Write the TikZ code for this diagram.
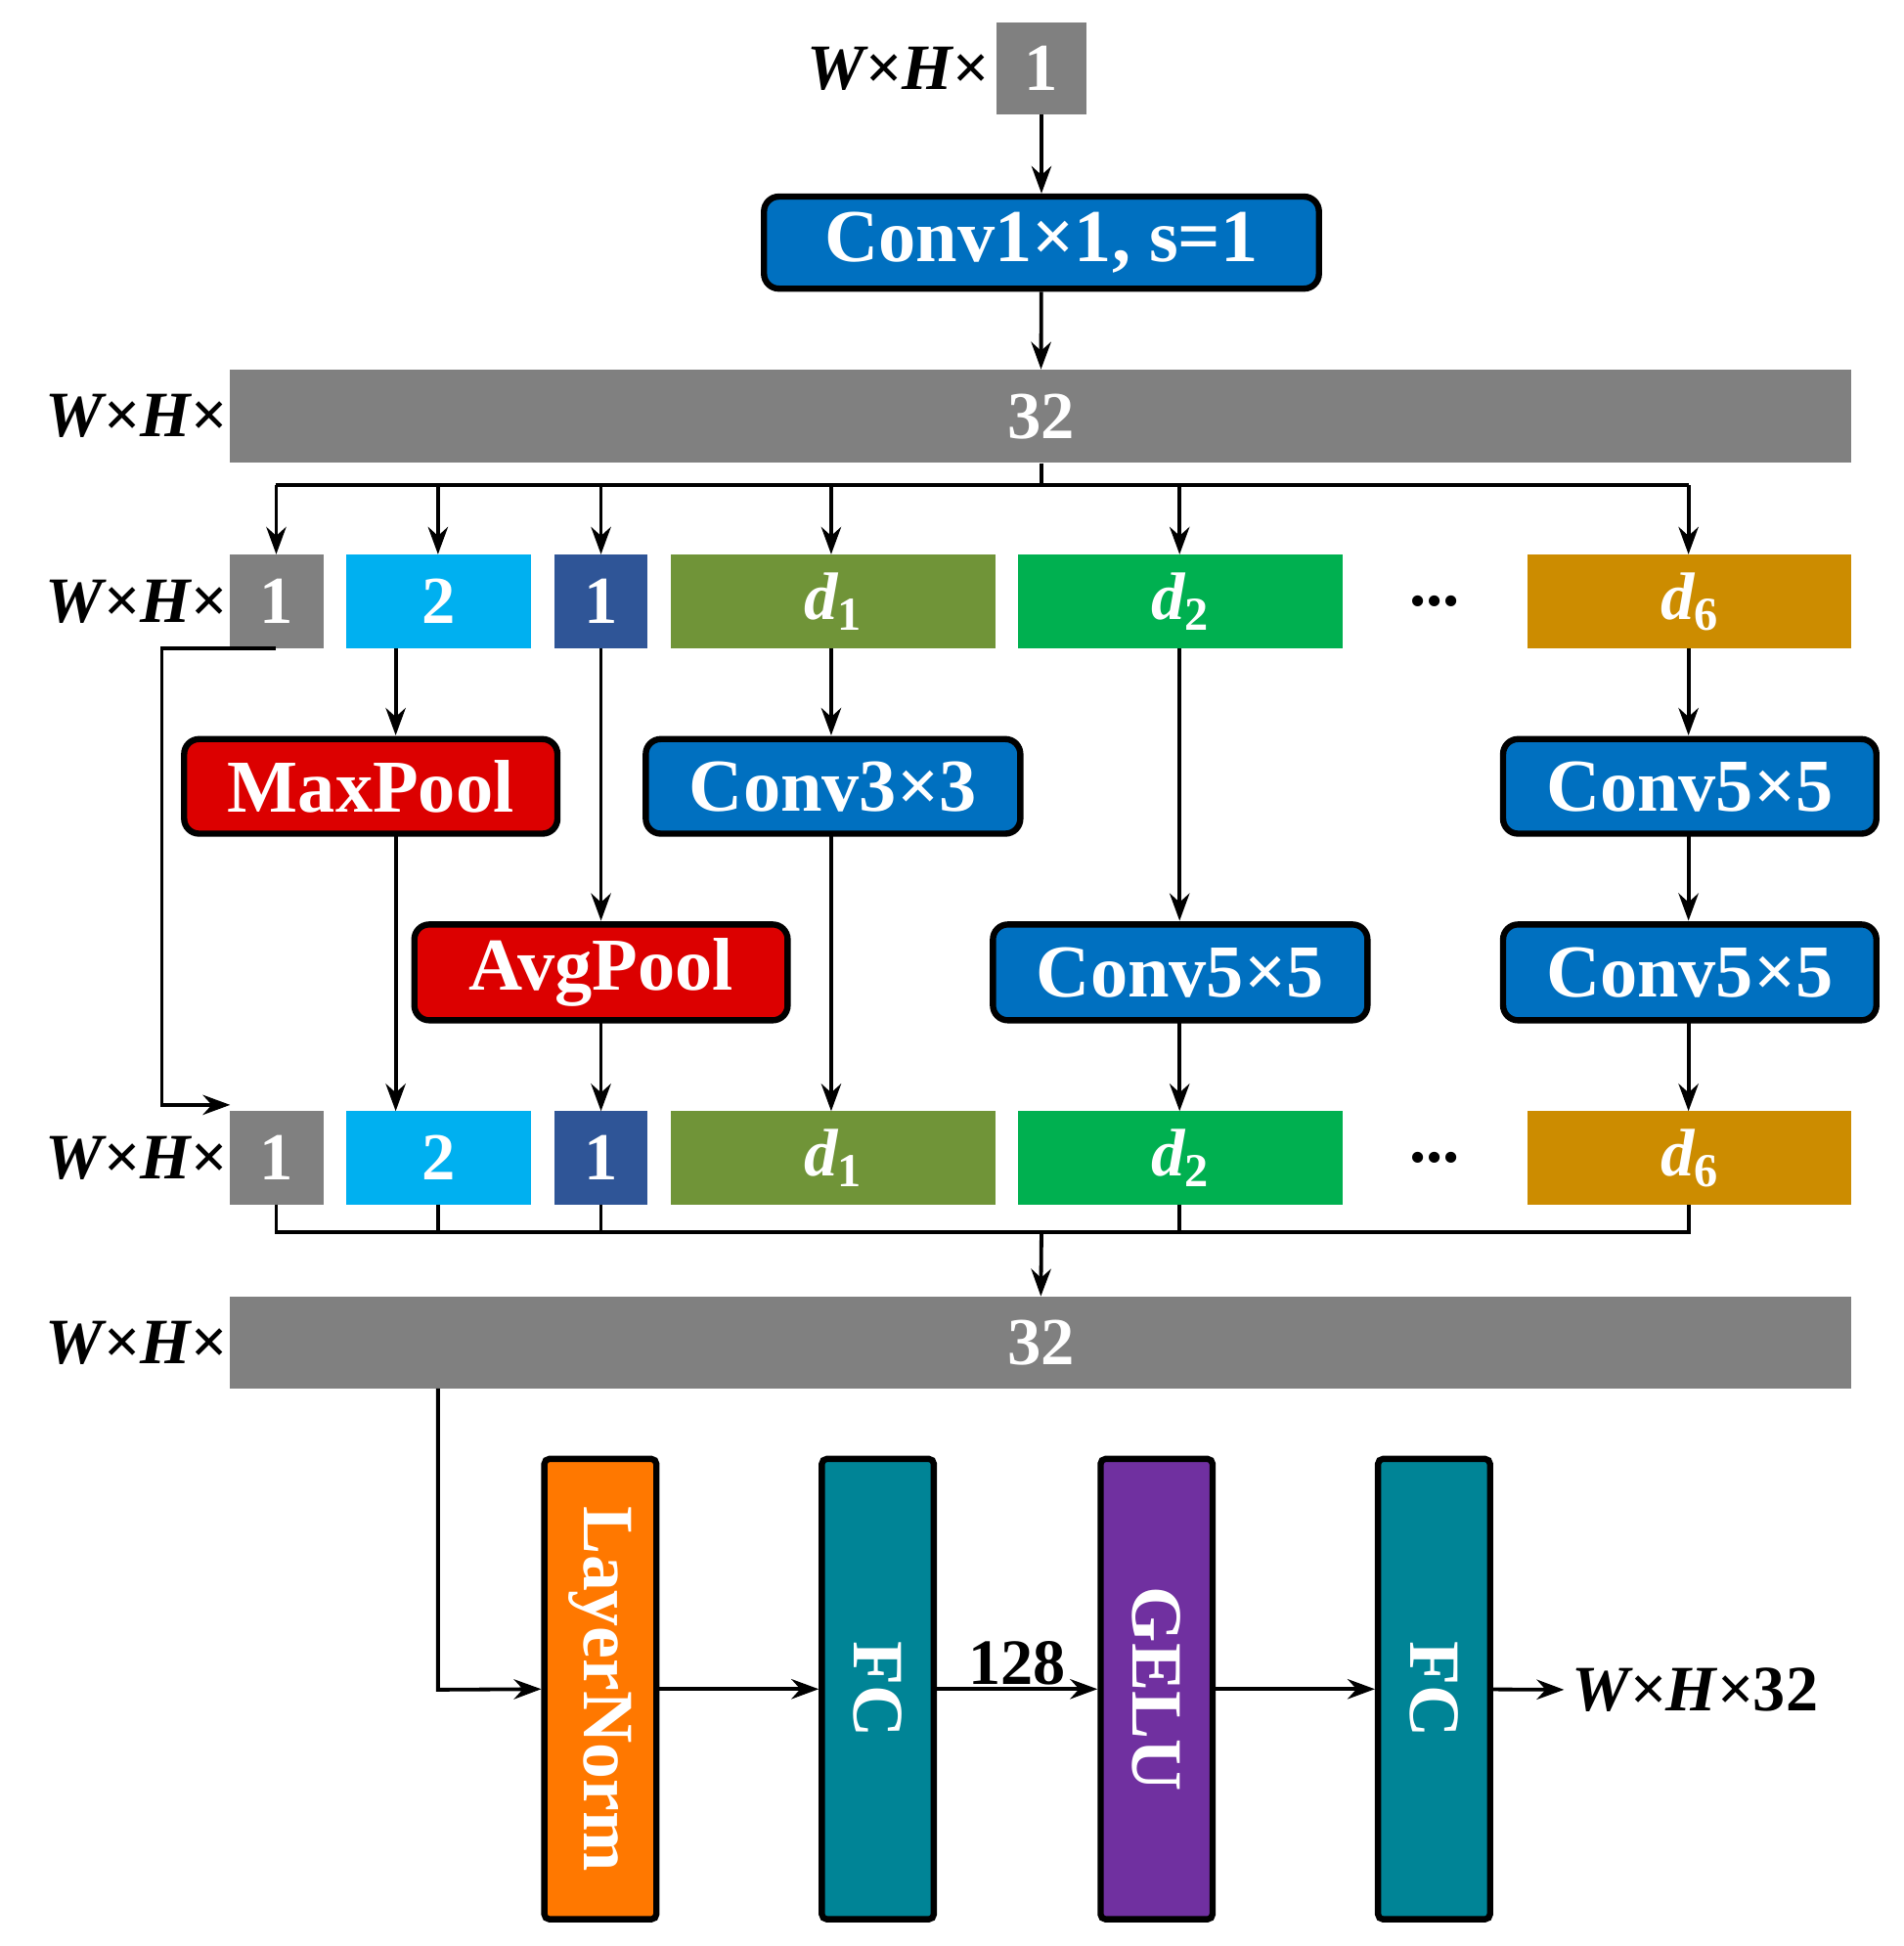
\documentclass[tikz,border=0pt]{standalone}
\usepackage{fontspec}
\setmainfont{Liberation Serif}
\usetikzlibrary{arrows.meta}
\definecolor{cblue}{RGB}{0,112,192}
\definecolor{cred}{RGB}{220,0,0}
\definecolor{cgray}{RGB}{128,128,128}
\definecolor{ccyan}{RGB}{0,176,240}
\definecolor{cnavy}{RGB}{47,85,151}
\definecolor{colive}{RGB}{112,148,56}
\definecolor{cgreen}{RGB}{0,176,80}
\definecolor{cgold}{RGB}{204,140,0}
\definecolor{corange}{RGB}{255,120,0}
\definecolor{cteal}{RGB}{0,132,150}
\definecolor{cpurple}{RGB}{112,48,160}
\newcommand{\dsub}[1]{{\itshape d}\raisebox{-0.35ex}{\fontsize{38}{38}\selectfont #1}}
\begin{document}
\begin{tikzpicture}[x=1pt,y=-1pt,
  op/.style={draw=black,line width=5pt,rounded corners=12pt,text=white,inner sep=0pt,font=\bfseries\fontsize{60}{60}\selectfont},
  blk/.style={inner sep=0pt,text=white,font=\bfseries\fontsize{54}{54}\selectfont},
  vb/.style={draw=black,line width=5pt,rounded corners=4pt,inner sep=0pt,minimum width=90pt,minimum height=370pt},
  vt/.style={text=white,rotate=-90,font=\bfseries\fontsize{58}{58}\selectfont},
  lab/.style={font=\bfseries\itshape\fontsize{52}{52}\selectfont,inner sep=0pt},
  ar/.style={line width=3pt,-{Stealth[length=22pt,width=16pt]}},
  ln/.style={line width=3pt}]
\useasboundingbox (0,0) rectangle (1530,1564);
% top
\node[blk,fill=cgray,minimum width=73pt,minimum height=74pt] (in) at (837,55) {1};
\node[lab,anchor=east] (lin) at (795,55) {W×H×};
\node[op,fill=cblue,minimum width=446pt,minimum height=74pt] (c1) at (837,195) {Conv1×1, s=1};
\node[blk,fill=cgray,minimum width=1303pt,minimum height=75pt] (b1) at (836.5,334.5) {32};
\node[lab,anchor=east] (lb1) at (183,334.5) {W×H×};
\draw[ar] (in) -- (c1);
\draw[ar] (c1) -- (b1);
% split row
\foreach \n/\y in {r1/483.5, s1/930.5}{
  \node[blk,fill=cgray,minimum width=75pt,minimum height=75pt] (\n a) at (222.5,\y) {1};
  \node[blk,fill=ccyan,minimum width=149pt,minimum height=75pt] (\n b) at (352.5,\y) {2};
  \node[blk,fill=cnavy,minimum width=74pt,minimum height=75pt] (\n c) at (483,\y) {1};
  \node[blk,fill=colive,minimum width=261pt,minimum height=75pt] (\n d) at (669.5,\y) {\dsub{1}};
  \node[blk,fill=cgreen,minimum width=261pt,minimum height=75pt] (\n e) at (948.5,\y) {\dsub{2}};
  \node[blk,fill=cgold,minimum width=260pt,minimum height=75pt] (\n f) at (1358,\y) {\dsub{6}};
  \node[blk,text=black] (\n g) at (1153,\y) {...};
  \node[lab,anchor=east] (\n l) at (183,\y) {W×H×};
}
\coordinate (sp) at (837,390);
\draw[ln] (b1.south -| sp) -- (sp);
\draw[ln] (222,390) -- (1357,390);
\foreach \x in {222,352,483,668,948,1357}
  \draw[ar] (\x,390) -- (\x,445.5);
% ops
\node[op,fill=cred,minimum width=300pt,minimum height=76pt] (mp) at (298,632) {MaxPool};
\node[op,fill=cblue,minimum width=301pt,minimum height=76pt] (c3) at (669.5,632) {Conv3×3};
\node[op,fill=cblue,minimum width=300pt,minimum height=76pt] (c5a) at (1358,632) {Conv5×5};
\node[op,fill=cred,minimum width=300pt,minimum height=77pt] (ap) at (483,781.5) {AvgPool};
\node[op,fill=cblue,minimum width=301pt,minimum height=77pt] (c5m) at (948.5,781.5) {Conv5×5};
\node[op,fill=cblue,minimum width=300pt,minimum height=77pt] (c5b) at (1358,781.5) {Conv5×5};
\draw[ar] (318,521) -- (318,591);
\draw[ar] (483,521) -- (483,740);
\draw[ar] (668,521) -- (668,591);
\draw[ar] (948,521) -- (948,740);
\draw[ar] (1357,521) -- (1357,591);
\draw[ar] (1357,672) -- (1357,740);
\draw[ar] (318,672) -- (318,893);
\draw[ar] (483,822) -- (483,893);
\draw[ar] (668,672) -- (668,893);
\draw[ar] (948,822) -- (948,893);
\draw[ar] (1357,822) -- (1357,893);
\draw[ar] (222,521) -- (130,521) -- (130,888) -- (185,888);
% merge
\node[blk,fill=cgray,minimum width=1303pt,minimum height=74pt] (b2) at (836.5,1079) {32};
\node[lab,anchor=east] (lb2) at (183,1079) {W×H×};
\draw[ln] (222,968) -- (222,990) -- (1357,990) -- (1357,968);
\foreach \x in {352,483,948} \draw[ln] (\x,968) -- (\x,990);
\draw[ar] (837,990) -- (b2.north);
% MLP
\node[vb,fill=corange] (ln) at (482.5,1357.5) {};
\node[vt] at (ln) {LayerNorm};
\node[vb,fill=cteal] (fc1) at (705.5,1357.5) {};
\node[vt] at (fc1) {FC};
\node[vb,fill=cpurple] (ge) at (929.5,1357.5) {};
\node[vt] at (ge) {GELU};
\node[vb,fill=cteal] (fc2) at (1152.5,1357.5) {};
\node[vt] at (fc2) {FC};
\draw[ar] (352,1116) -- (352,1358) -- (ln.west);
\draw[ar] (ln) -- (fc1);
\draw[ar] (fc1) -- node[above=2pt,font=\bfseries\fontsize{52}{52}\selectfont,inner sep=0pt] {128} (ge);
\draw[ar] (ge) -- (fc2);
\coordinate (out) at (1257,1358);
\draw[ar] (fc2) -- (out);
\node[lab,anchor=west] at (1263,1358) {W×H×\textup{32}};
\end{tikzpicture}
\end{document}
